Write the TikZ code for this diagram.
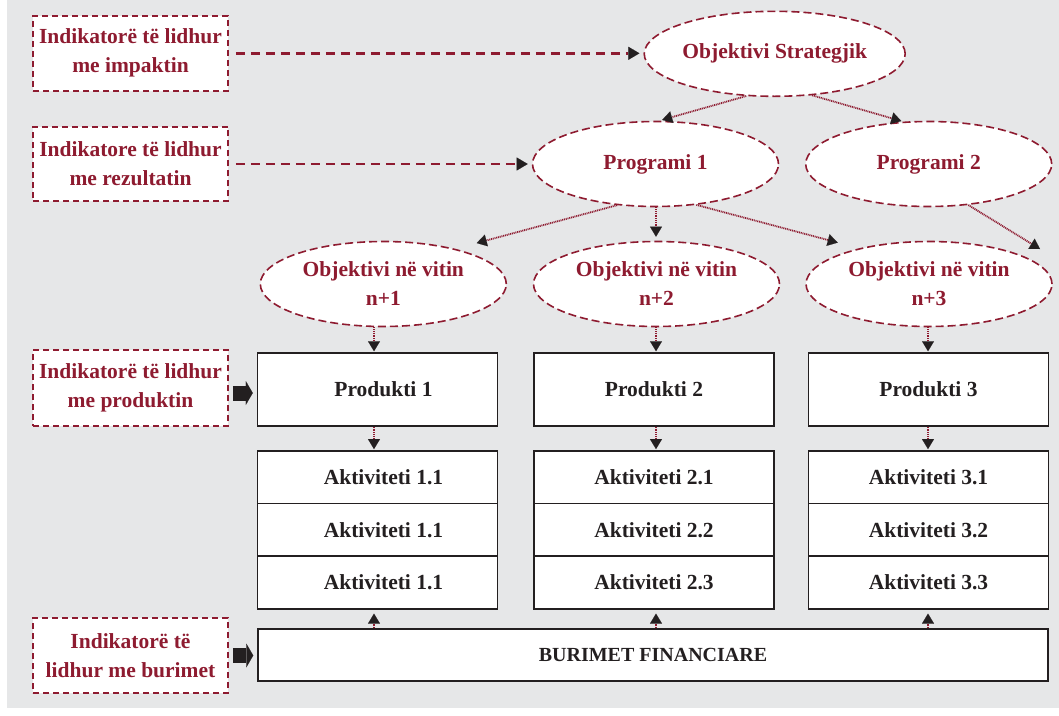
\documentclass[tikz,border=0pt]{standalone}
\usepackage{fontspec}
\setmainfont{Liberation Serif}
\usetikzlibrary{shapes.geometric,arrows.meta}
\definecolor{wine}{HTML}{8E1B30}
\definecolor{ink}{HTML}{231F20}
\definecolor{panel}{HTML}{E6E7E8}

\begin{document}
\begin{tikzpicture}[x=1pt,y=-1pt,
  every node/.style={font=\bfseries\fontsize{21.5}{29}\selectfont, align=center, inner sep=0pt},
  indbox/.style={draw=wine, line width=1.6pt, dash pattern=on 6pt off 4pt, fill=white, text=wine, minimum width=195pt},
  goal/.style={ellipse, draw=wine, line width=1.6pt, dash pattern=on 8pt off 4pt, fill=white, text=wine, minimum width=246pt, minimum height=85pt},
  card/.style={draw=ink, line width=1.5pt, fill=white, text=ink, minimum width=240pt},
  dotarrow/.style={draw=wine, line width=1.8pt, dash pattern=on 1pt off 0.8pt, -{Triangle[width=12pt,length=10pt,color=ink,line width=0.1pt]}},
  dasharrow/.style={draw=wine, line width=2.4pt, dash pattern=on 9pt off 6pt, -{Triangle[width=13pt,length=11pt,color=ink,line width=0.1pt]}},
  blockarrow/.style={draw=ink, line width=15pt, -{Triangle[width=24pt,length=7pt,color=ink,line width=0.1pt]}, shorten <=4pt, shorten >=4pt}]

% page and grey panel
\fill[white] (0,0) rectangle (1059,715);
\fill[panel] (7,0) rectangle (1059,708);
\useasboundingbox (0,0) rectangle (1059,715);

% column guides for the vertical links
\coordinate (c1) at (374,0);
\coordinate (c2) at (656,0);
\coordinate (c3) at (928,0);

% indicator boxes
\node[indbox, minimum height=75pt]   (i1) at (130.5,53.3)  {Indikatorë të lidhur\\me impaktin};
\node[indbox, minimum height=74.5pt] (i2) at (130.5,164)   {Indikatore të lidhur\\me rezultatin};
\node[indbox, minimum height=76pt]   (i3) at (130.5,388)   {Indikatorë të lidhur\\me produktin};
\node[indbox, minimum height=75pt]   (i4) at (130.5,655.5) {Indikatorë të\\lidhur me burimet};

% objectives and programmes
\node[goal] (obs) at (774.7,53.8) {Objektivi Strategjik};
\node[goal] (pr1) at (655.5,164)  {Programi 1};
\node[goal] (pr2) at (928.7,164)  {Programi 2};
\node[goal] (n1)  at (383.3,284)  {Objektivi në vitin\\n+1};
\node[goal] (n2)  at (656.5,284)  {Objektivi në vitin\\n+2};
\node[goal] (n3)  at (929,284)    {Objektivi në vitin\\n+3};

% products (left column text sits a little right of the box centre)
\node[card, minimum height=73pt] (p1) at (377.5,389.5) {\hspace*{12pt}Produkti 1};
\node[card, minimum height=73pt] (p2) at (654,389.5)   {Produkti 2};
\node[card, minimum height=73pt] (p3) at (928.5,389.5) {Produkti 3};

% activities
\node[card, minimum height=52.7pt] (a11) at (377.5,477.2) {\hspace*{12pt}Aktiviteti 1.1};
\node[card, minimum height=52.7pt] (a12) at (377.5,529.9) {\hspace*{12pt}Aktiviteti 1.1};
\node[card, minimum height=52.7pt] (a13) at (377.5,582.5) {\hspace*{12pt}Aktiviteti 1.1};
\node[card, minimum height=52.7pt] (a21) at (654,477.2)   {Aktiviteti 2.1};
\node[card, minimum height=52.7pt] (a22) at (654,529.9)   {Aktiviteti 2.2};
\node[card, minimum height=52.7pt] (a23) at (654,582.5)   {Aktiviteti 2.3};
\node[card, minimum height=52.7pt] (a31) at (928.5,477.2) {Aktiviteti 3.1};
\node[card, minimum height=52.7pt] (a32) at (928.5,529.9) {Aktiviteti 3.2};
\node[card, minimum height=52.7pt] (a33) at (928.5,582.5) {Aktiviteti 3.3};

% financial resources
\node[card, minimum width=790pt, minimum height=52pt, font=\bfseries\fontsize{20}{24}\selectfont] (bur) at (653,655) {BURIMET FINANCIARE};

% indicator links
\draw[dasharrow, shorten <=7pt, shorten >=4pt] (i1.east) -- (i1.east -| obs.west);
\draw[dasharrow, shorten <=7pt, shorten >=4pt] (i2.east) -- (i2.east -| pr1.west);
\draw[blockarrow] ([yshift=-5pt]i3.east) -- ([yshift=-5pt]i3.east -| p1.west);
\draw[blockarrow] (i4.east) -- (i4.east -| bur.west);

% hierarchy links
\coordinate (t6) at (1040,249);
\draw[dotarrow, shorten >=3pt]  (obs.236) -- (pr1.85);
\draw[dotarrow, shorten >=2pt]  (obs.312) -- (pr2.121);
\draw[dotarrow, shorten >=22pt] (pr1.227) -- (n1.26);
\draw[dotarrow, shorten >=4pt]  (pr1.south -| c2) -- (n2.north -| c2);
\draw[dotarrow, shorten >=22pt] (pr1.315) -- (n3.153);
\draw[dotarrow]                 (pr2.314) -- (t6);

\draw[dotarrow, shorten >=1pt] (n1.south -| c1) -- (p1.north -| c1);
\draw[dotarrow, shorten >=1pt] (n2.south -| c2) -- (p2.north -| c2);
\draw[dotarrow, shorten >=1pt] (n3.south -| c3) -- (p3.north -| c3);

\draw[dotarrow, shorten >=1pt] (p1.south -| c1) -- (a11.north -| c1);
\draw[dotarrow, shorten >=1pt] (p2.south -| c2) -- (a21.north -| c2);
\draw[dotarrow, shorten >=1pt] (p3.south -| c3) -- (a31.north -| c3);

\draw[dotarrow, shorten >=4pt] (bur.north -| c1) -- (a13.south -| c1);
\draw[dotarrow, shorten >=4pt] (bur.north -| c2) -- (a23.south -| c2);
\draw[dotarrow, shorten >=4pt] (bur.north -| c3) -- (a33.south -| c3);
\end{tikzpicture}
\end{document}
